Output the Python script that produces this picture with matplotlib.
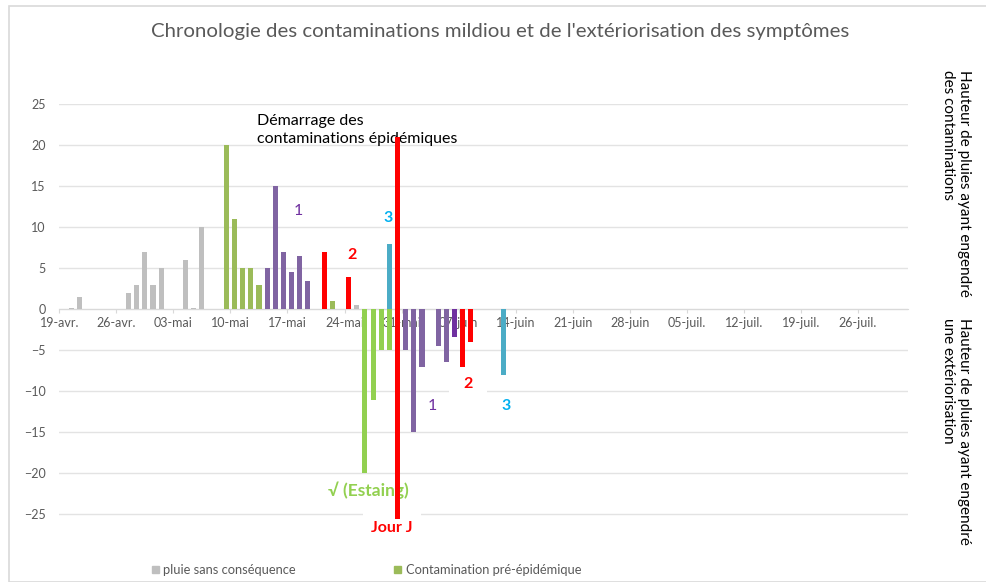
import matplotlib
matplotlib.use("Agg")
import matplotlib.pyplot as plt
from matplotlib.patches import Rectangle, Patch
import numpy as np

plt.rcParams['font.family'] = ['Lato', 'DejaVu Sans']

# ---- Data (day offsets counted from 19-avr.) ----
tick_labels = ["19-avr.", "26-avr.", "03-mai", "10-mai", "17-mai", "24-mai", "31-mai",
               "07-juin", "14-juin", "21-juin", "28-juin", "05-juil.", "12-juil.",
               "19-juil.", "26-juil."]

rain_days = [1, 2, 8, 9, 10, 11, 12, 15, 16, 17, 36]
rain_vals = [0.2, 1.5, 2, 3, 7, 3, 5, 6, 0.2, 10, 0.5]

pre_days = [20, 21, 22, 23, 24, 33]
pre_vals = [20, 11, 5, 5, 3, 1]

c1_days = [25, 26, 27, 28, 29, 30]
c1_vals = [5, 15, 7, 4.5, 6.5, 3.5]

c2_days = [32, 35]
c2_vals = [7, 4]

c3_days = [40]
c3_vals = [8]

ext_pre_days = [37, 38, 39, 40]
ext_pre_vals = [-20, -11, -5, -5]

ext1_days = [42, 43, 44, 46, 47]
ext1_vals = [-5, -15, -7, -4.5, -6.4]
ext1b_days = [48]
ext1b_vals = [-3.4]

ext2_days = [49, 50]
ext2_vals = [-7, -4]

ext3_days = [54]
ext3_vals = [-8]

jour_j_day = 41
jour_j_top = 21
jour_j_bottom = -25.6

# ---- Figure ----
W, H = 987, 582
fig = plt.figure(figsize=(W / 100, H / 100), dpi=100)

# chart border
fig.patches.append(Rectangle((9 / W, 0), 1.2, 1 - 6 / H, transform=fig.transFigure,
                             fill=False, edgecolor='#D9D9D9', linewidth=1.2))

px_left, px_right = 59.3, 908
px_zero, px_per_unit = 309.3, 8.2
ymin, ymax = -26, 25
top_px = px_zero - ymax * px_per_unit
bot_px = px_zero - ymin * px_per_unit
ax = fig.add_axes([px_left / W, 1 - bot_px / H, (px_right - px_left) / W, (bot_px - top_px) / H])
xmax = (px_right - px_left) / 8.15
ax.set_xlim(0, xmax)
ax.set_ylim(ymin, ymax)

bw = 0.62
off = 0.5
def bars(days, vals, color):
    return ax.bar(np.array(days) + off, vals, width=bw, color=color, zorder=3)

bars(rain_days, rain_vals, '#BFBFBF')
bars(pre_days, pre_vals, '#9BBB59')
bars(c1_days, c1_vals, '#8064A2')
bars(c2_days, c2_vals, '#FF0000')
bars(c3_days, c3_vals, '#4BACC6')
bars(ext_pre_days, ext_pre_vals, '#92D050')
bars(ext1_days, ext1_vals, '#8064A2')
bars(ext1b_days, ext1b_vals, '#7030A0')
bars(ext2_days, ext2_vals, '#FF0000')
bars(ext3_days, ext3_vals, '#4BACC6')
ax.bar([jour_j_day + off], [jour_j_top - jour_j_bottom], bottom=jour_j_bottom, width=0.5,
       color='#FF0000', zorder=4, clip_on=False)

# axes styling
for s in ['top', 'right', 'left']:
    ax.spines[s].set_visible(False)
ax.spines['bottom'].set_position(('data', 0))
ax.spines['bottom'].set_color('#D9D9D9')
ax.spines['bottom'].set_zorder(1)
ax.xaxis.set_zorder(1)
ax.yaxis.set_zorder(1)
ax.set_xticks(np.arange(len(tick_labels)) * 7)
ax.set_xticklabels(tick_labels)
ax.tick_params(axis='x', length=3, color='#D9D9D9', labelcolor='#595959', labelsize=9, pad=2.5)
ax.set_yticks(np.arange(-25, 30, 5))
ax.tick_params(axis='y', length=0, labelcolor='#595959', labelsize=9, pad=10)
ax.yaxis.grid(True, color='#E3E3E3', linewidth=1.0)
ax.set_axisbelow(True)

# title
fig.text(500 / W, 1 - 31 / H,
         "Chronologie des contaminations mildiou et de l'extériorisation des symptômes",
         ha='center', va='center', color='#595959', fontsize=14.7)

# annotations (data coordinates)
def dx(px):
    return (px - px_left) / 8.15
def dy(py):
    return (px_zero - py) / px_per_unit

ax.text(dx(257), dy(130), "Démarrage des\ncontaminations épidémiques", ha='left', va='center',
        fontsize=11.5, color='black', linespacing=1.35, zorder=2)
ax.text(dx(298), dy(211), "1", color='#7030A0', fontsize=11.5, ha='center', va='center', zorder=2)
ax.text(dx(388), dy(218), "3", color='#00B0F0', fontsize=11.5, fontweight='bold', ha='center', va='center', zorder=2)
ax.text(dx(352), dy(255), "2", color='#FF0000', fontsize=11.5, fontweight='bold', ha='center', va='center', zorder=2)
ax.text(dx(432), dy(406), "1", color='#7030A0', fontsize=11.5, ha='center', va='center', zorder=2)
ax.text(dx(468), dy(384), "2", color='#FF0000', fontsize=11.5, fontweight='bold', ha='center', va='center', zorder=2,
        bbox=dict(boxstyle='square,pad=0.9', facecolor='white', edgecolor='none'))
ax.text(dx(506), dy(406), "3", color='#00B0F0', fontsize=11.5, fontweight='bold', ha='center', va='center', zorder=2)
ax.text(dx(368), dy(490), "√ (Estaing)", color='#92D050', fontsize=12.5, fontweight='bold', ha='center',
        va='center', zorder=2, clip_on=False)
ax.text(dx(392), dy(528), "Jour J", color='#FF0000', fontsize=11.5, fontweight='bold', ha='center',
        va='center', zorder=2, clip_on=False,
        bbox=dict(boxstyle='square,pad=0.5', facecolor='white', edgecolor='none'))

# right side labels
fig.text(956 / W, 1 - 70 / H, "Hauteur de pluies ayant engendré\ndes contaminations",
         rotation=-90, ha='center', va='top', fontsize=11, color='black', linespacing=1.25,
         multialignment='left')
fig.text(956 / W, 1 - 318 / H, "Hauteur de pluies ayant engendré\nune extériorisation",
         rotation=-90, ha='center', va='top', fontsize=11, color='black', linespacing=1.25,
         multialignment='left')

# legend
leg = fig.legend([Patch(color='#BFBFBF'), Patch(color='#9BBB59')],
                 ["pluie sans conséquence", "Contamination pré-épidémique"],
                 loc='center left', bbox_to_anchor=(140 / W, 1 - 570 / H), ncol=2, frameon=False,
                 fontsize=9.3, handlelength=0.55, handleheight=0.55, handletextpad=0.35,
                 columnspacing=7.6, labelcolor='#595959')

fig.savefig("out.png", dpi=100)
